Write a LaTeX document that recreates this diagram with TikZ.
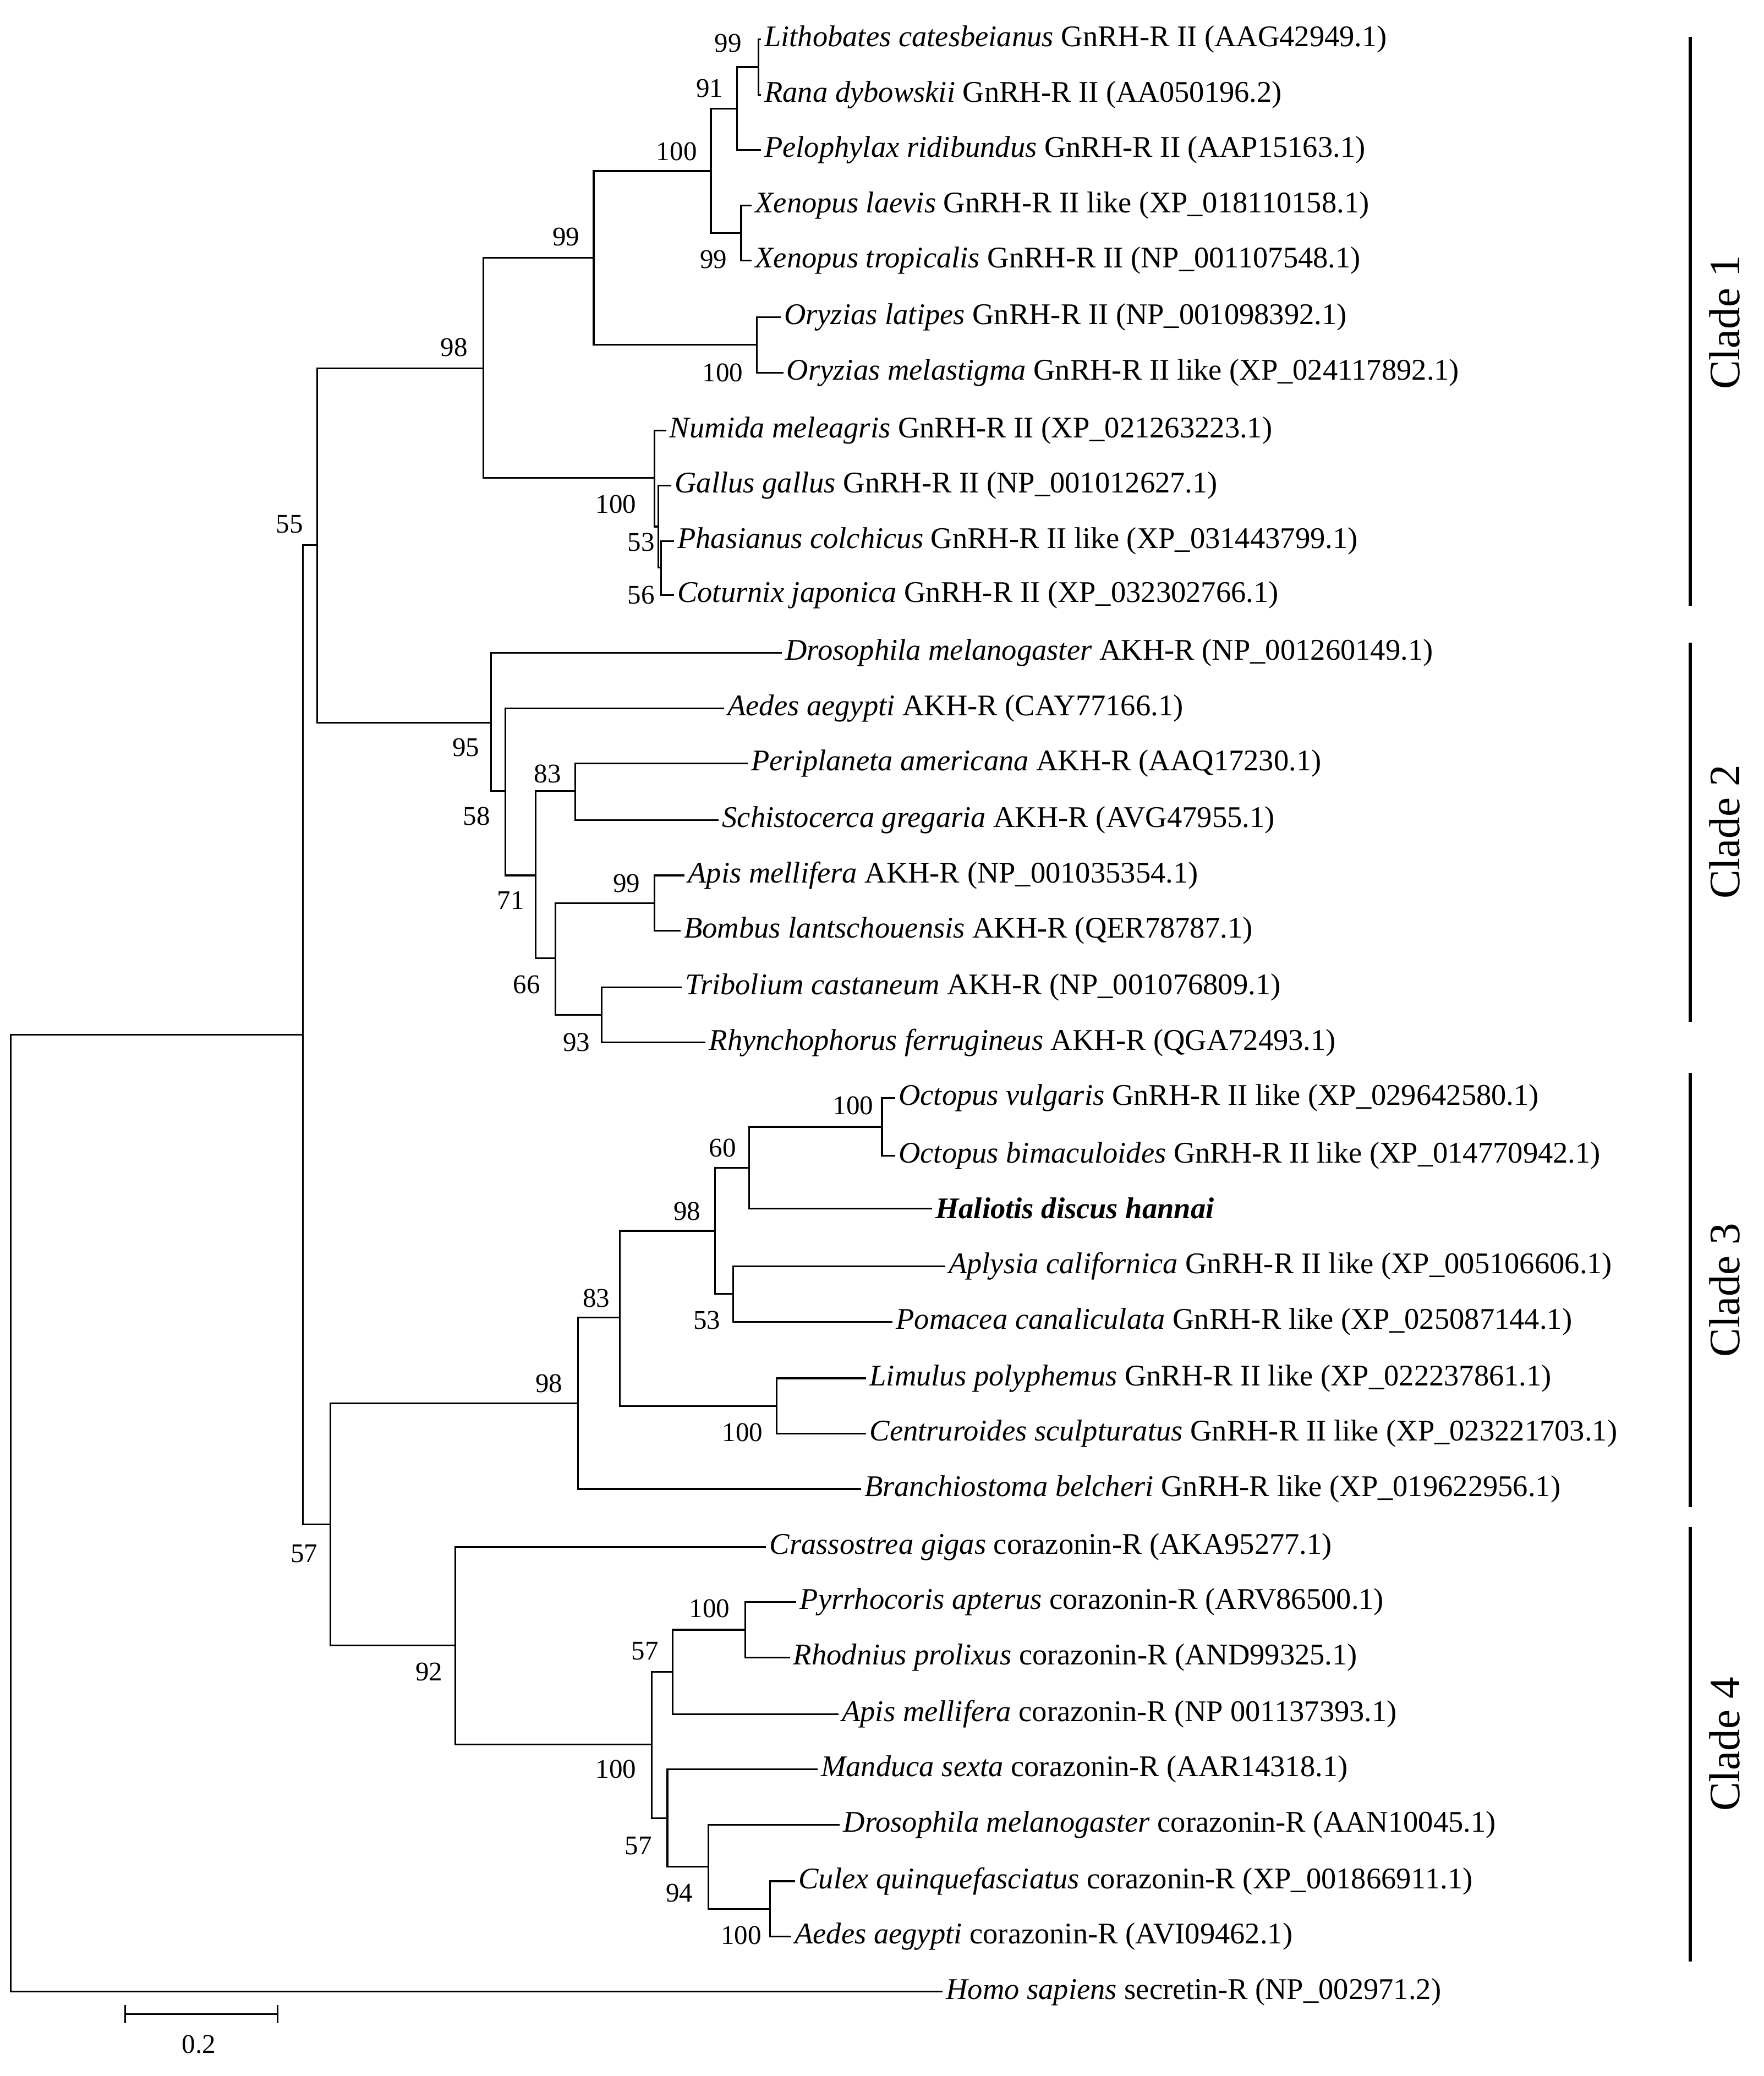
\documentclass[tikz,border=0pt]{standalone}
\usepackage{fontspec}
\setmainfont{Liberation Serif}
\begin{document}
\begin{tikzpicture}[x=1pt,y=-1pt,line width=1.3pt,
 leaf/.style={anchor=west,inner sep=2pt,font=\fontsize{22.8}{26}\selectfont},
 bs/.style={inner sep=0pt,font=\fontsize{20.5}{24}\selectfont},
 clade/.style={rotate=90,font=\fontsize{33}{36}\selectfont}]
\useasboundingbox (0,0) rectangle (1340,1577);
% leaves
\node[leaf] (L1) at (578,30) {\textit{Lithobates catesbeianus} GnRH-R II (AAG42949.1)};
\node[leaf] (L2) at (578,72) {\textit{Rana dybowskii} GnRH-R II (AA050196.2)};
\node[leaf] (L3) at (578,114) {\textit{Pelophylax ridibundus} GnRH-R II (AAP15163.1)};
\node[leaf] (L4) at (571,156) {\textit{Xenopus laevis} GnRH-R II like (XP\_018110158.1)};
\node[leaf] (L5) at (571,198) {\textit{Xenopus tropicalis} GnRH-R II (NP\_001107548.1)};
\node[leaf] (L6) at (593,241) {\textit{Oryzias latipes} GnRH-R II (NP\_001098392.1)};
\node[leaf] (L7) at (595,283) {\textit{Oryzias melastigma} GnRH-R II like (XP\_024117892.1)};
\node[leaf] (L8) at (506,327) {\textit{Numida meleagris} GnRH-R II (XP\_021263223.1)};
\node[leaf] (L9) at (510,369) {\textit{Gallus gallus} GnRH-R II (NP\_001012627.1)};
\node[leaf] (L10) at (512,411) {\textit{Phasianus colchicus} GnRH-R II like (XP\_031443799.1)};
\node[leaf] (L11) at (512,452) {\textit{Coturnix japonica} GnRH-R II (XP\_032302766.1)};
\node[leaf] (L12) at (594,496) {\textit{Drosophila melanogaster} AKH-R (NP\_001260149.1)};
\node[leaf] (L13) at (550,538) {\textit{Aedes aegypti} AKH-R (CAY77166.1)};
\node[leaf] (L14) at (568,580) {\textit{Periplaneta americana} AKH-R (AAQ17230.1)};
\node[leaf] (L15) at (546,623) {\textit{Schistocerca gregaria} AKH-R (AVG47955.1)};
\node[leaf] (L16) at (520,665) {\textit{Apis mellifera} AKH-R (NP\_001035354.1)};
\node[leaf] (L17) at (517,707) {\textit{Bombus lantschouensis} AKH-R (QER78787.1)};
\node[leaf] (L18) at (518,750) {\textit{Tribolium castaneum} AKH-R (NP\_001076809.1)};
\node[leaf] (L19) at (536,792) {\textit{Rhynchophorus ferrugineus} AKH-R (QGA72493.1)};
\node[leaf] (L20) at (680,834) {\textit{Octopus vulgaris} GnRH-R II like (XP\_029642580.1)};
\node[leaf] (L21) at (680,878) {\textit{Octopus bimaculoides} GnRH-R II like (XP\_014770942.1)};
\node[leaf] (L22) at (708,918) {\textbf{\textit{Haliotis discus hannai}}};
\node[leaf] (L23) at (718,962) {\textit{Aplysia californica} GnRH-R II like (XP\_005106606.1)};
\node[leaf] (L24) at (678,1004) {\textit{Pomacea canaliculata} GnRH-R like (XP\_025087144.1)};
\node[leaf] (L25) at (658,1047) {\textit{Limulus polyphemus} GnRH-R II like (XP\_022237861.1)};
\node[leaf] (L26) at (658,1089) {\textit{Centruroides sculpturatus} GnRH-R II like (XP\_023221703.1)};
\node[leaf] (L27) at (654,1131) {\textit{Branchiostoma belcheri} GnRH-R like (XP\_019622956.1)};
\node[leaf] (L28) at (582,1175) {\textit{Crassostrea gigas} corazonin-R (AKA95277.1)};
\node[leaf] (L29) at (605,1217) {\textit{Pyrrhocoris apterus} corazonin-R (ARV86500.1)};
\node[leaf] (L30) at (600,1259) {\textit{Rhodnius prolixus} corazonin-R (AND99325.1)};
\node[leaf] (L31) at (637,1302) {\textit{Apis mellifera} corazonin-R (NP 001137393.1)};
\node[leaf] (L32) at (621,1344) {\textit{Manduca sexta} corazonin-R (AAR14318.1)};
\node[leaf] (L33) at (638,1386) {\textit{Drosophila melanogaster} corazonin-R (AAN10045.1)};
\node[leaf] (L34) at (604,1429) {\textit{Culex quinquefasciatus} corazonin-R (XP\_001866911.1)};
\node[leaf] (L35) at (601,1471) {\textit{Aedes aegypti} corazonin-R (AVI09462.1)};
\node[leaf] (L36) at (716,1513) {\textit{Homo sapiens} secretin-R (NP\_002971.2)};
% internal nodes
\coordinate (a1) at (576,51); \coordinate (a2) at (560,82.5); \coordinate (a3) at (563,177);
\coordinate (a4) at (540,130); \coordinate (a5) at (575,262); \coordinate (a6) at (451,196);
\coordinate (b3) at (502,431); \coordinate (b2) at (500,400); \coordinate (b1) at (497,363);
\coordinate (a7) at (367,280);
\coordinate (c1) at (437,601); \coordinate (c2) at (497,686); \coordinate (c3) at (457,771);
\coordinate (c4) at (422,728); \coordinate (c5) at (407,665); \coordinate (c6) at (384,601);
\coordinate (c7) at (373,549); \coordinate (a8) at (241,414);
\coordinate (d1) at (670,856); \coordinate (d2) at (569,887); \coordinate (d3) at (557,983);
\coordinate (d4) at (543,935); \coordinate (d5) at (590,1068); \coordinate (d6) at (471,1001);
\coordinate (d7) at (439,1066);
\coordinate (e1) at (566,1238); \coordinate (e2) at (511,1270); \coordinate (e3) at (585,1450);
\coordinate (e4) at (538,1418); \coordinate (e5) at (507,1381); \coordinate (e6) at (495,1325);
\coordinate (e7) at (346,1250); \coordinate (e8) at (251,1158);
\coordinate (r1) at (230,786); \coordinate (root) at (8,1150);
% branches
\draw (L1.west) -| (a1) |- (L2.west);
\draw (a1) -| (a2) |- (L3.west);
\draw (L4.west) -| (a3) |- (L5.west);
\draw (a2) -| (a4) |- (a3);
\draw (L6.west) -| (a5) |- (L7.west);
\draw (a4) -| (a6) |- (a5);
\draw (L10.west) -| (b3) |- (L11.west);
\draw (L9.west) -| (b2) |- (b3);
\draw (L8.west) -| (b1) |- (b2);
\draw (a6) -| (a7) |- (b1);
\draw (L14.west) -| (c1) |- (L15.west);
\draw (L16.west) -| (c2) |- (L17.west);
\draw (L18.west) -| (c3) |- (L19.west);
\draw (c2) -| (c4) |- (c3);
\draw (c1) -| (c5) |- (c4);
\draw (L13.west) -| (c6) |- (c5);
\draw (L12.west) -| (c7) |- (c6);
\draw (a7) -| (a8) |- (c7);
\draw (L20.west) -| (d1) |- (L21.west);
\draw (d1) -| (d2) |- (L22.west);
\draw (L23.west) -| (d3) |- (L24.west);
\draw (d2) -| (d4) |- (d3);
\draw (L25.west) -| (d5) |- (L26.west);
\draw (d4) -| (d6) |- (d5);
\draw (d6) -| (d7) |- (L27.west);
\draw (L29.west) -| (e1) |- (L30.west);
\draw (e1) -| (e2) |- (L31.west);
\draw (L34.west) -| (e3) |- (L35.west);
\draw (L33.west) -| (e4) |- (e3);
\draw (L32.west) -| (e5) |- (e4);
\draw (e2) -| (e6) |- (e5);
\draw (L28.west) -| (e7) |- (e6);
\draw (d7) -| (e8) |- (e7);
\draw (a8) -| (r1) |- (e8);
\draw (r1) -| (root) |- (L36.west);
% bootstrap labels
\foreach \t/\x/\y in {99/553/33,91/539/67,100/514/115,99/430/180,99/542/197,100/549/283,98/345/264,
 100/468/383,53/487/412,56/487/452,55/220/398,95/354/568,83/416/588,58/362/620,99/476/671,71/388/684,
 66/400/748,93/438/792,100/648/840,60/549/872,98/522/920,53/537/1003,83/453/986,98/417/1051,100/564/1088,
 57/231/1180,100/539/1222,57/490/1254,92/326/1270,100/468/1344,57/485/1402,94/516/1438,100/563/1470}
 \node[bs] at (\x,\y) {\t};
% scale bar
\coordinate (s1) at (95,1530); \coordinate (s2) at (211,1530);
\draw (s1) -- (s2); \draw (95,1523) -- (95,1537); \draw (211,1523) -- (211,1537);
\node[bs] (sl) at (151,1553) {0.2};
% clades
\draw[line width=2.5pt] (1284,28) -- (1284,460);
\draw[line width=2.5pt] (1284,488) -- (1284,776);
\draw[line width=2.5pt] (1284,815) -- (1284,1145);
\draw[line width=2.5pt] (1284,1160) -- (1284,1490);
\node[clade] (C1) at (1310,245) {Clade 1};
\node[clade] (C2) at (1310,632) {Clade 2};
\node[clade] (C3) at (1310,980) {Clade 3};
\node[clade] (C4) at (1310,1325) {Clade 4};
\end{tikzpicture}
\end{document}
